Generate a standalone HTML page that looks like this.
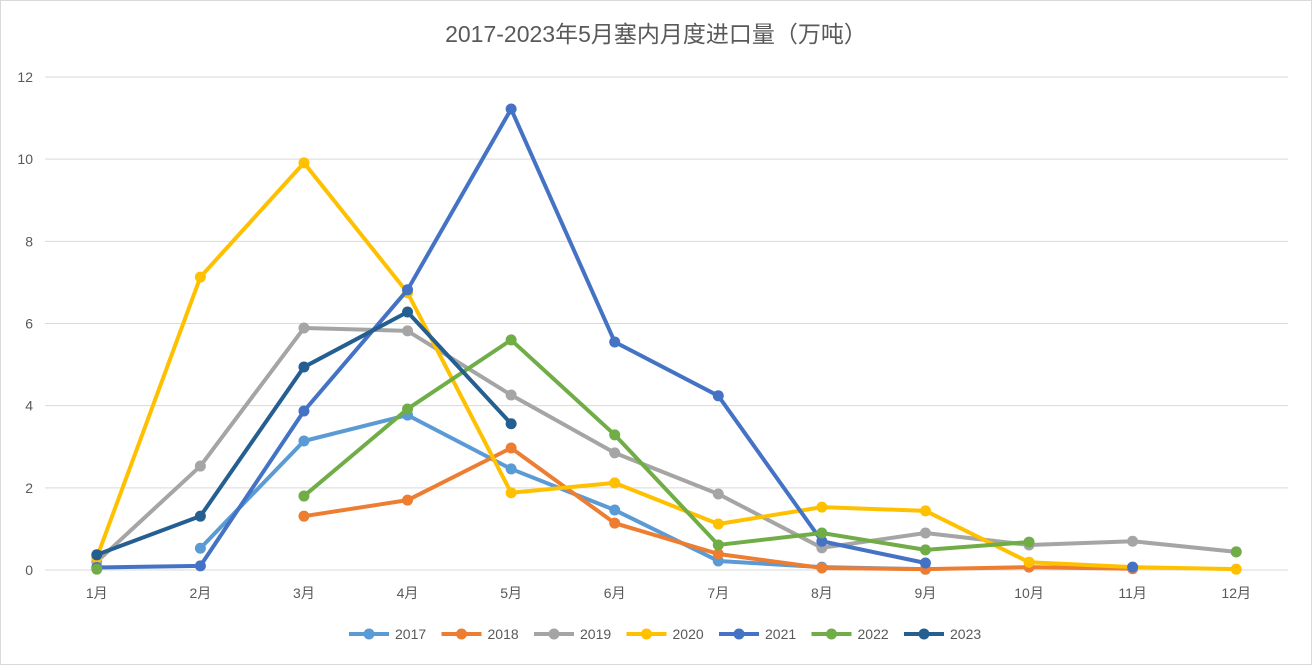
<!DOCTYPE html>
<html><head><meta charset="utf-8"><style>
body{margin:0;background:#fff;}
svg{display:block;font-family:"Liberation Sans","Noto Sans CJK SC",sans-serif;}
</style></head><body>
<svg id="chart" width="1312" height="665">
<rect x="0.5" y="0.5" width="1311" height="664" fill="#fff" stroke="#d9d9d9"/>
<text x="656" y="42" text-anchor="middle" font-size="23" fill="#595959">2017-2023年5月塞内月度进口量（万吨）</text>
<g id="grid"></g><g id="series"></g><g id="legend"></g>
</svg>
<script>
const categories=["1月","2月","3月","4月","5月","6月","7月","8月","9月","10月","11月","12月"];
const yTicks=[0,2,4,6,8,10,12];
const years=["2017","2018","2019","2020","2021","2022","2023"];
const colors=["#5b9bd5","#ed7d31","#a5a5a5","#ffc000","#4472c4","#70ad47","#255e91"];
const s2017=[null,0.53,3.14,3.77,2.46,1.46,0.22,0.07,0.02,null,null,null];
const s2018=[null,null,1.31,1.70,2.97,1.14,0.39,0.05,0.02,0.07,0.03,null];
const s2019=[0.2,2.53,5.89,5.82,4.26,2.85,1.85,0.54,0.9,0.61,0.7,0.44];
const s2020=[0.3,7.13,9.91,6.75,1.88,2.12,1.12,1.53,1.44,0.19,0.07,0.02];
const s2021=[0.06,0.1,3.87,6.82,11.22,5.55,4.24,0.7,0.17,null,0.07,null];
const s2022=[0.02,null,1.8,3.92,5.6,3.29,0.61,0.9,0.49,0.68,null,0.44];
const s2023=[0.37,1.31,4.94,6.28,3.56,null,null,null,null,null,null,null];
const seriesData=[s2017,s2018,s2019,s2020,s2021,s2022,s2023];
const NS="http://www.w3.org/2000/svg";
const plotLeft=45,plotRight=1288,plotTop=77,plotBottom=570,yMax=12;
const bw=(plotRight-plotLeft)/categories.length;
const xS=i=>plotLeft+bw*(i+0.5);
const yS=v=>plotBottom-(v/yMax)*(plotBottom-plotTop);
function mk(t,a,p){const e=document.createElementNS(NS,t);for(const k in a)e.setAttribute(k,a[k]);p.appendChild(e);return e;}
const grid=document.getElementById('grid');
yTicks.forEach(t=>{
 const l=mk('line',{x1:plotLeft,x2:plotRight,y1:yS(t),y2:yS(t),stroke:'#d9d9d9','stroke-width':1},grid);
 
 
 const tx=mk('text',{x:33,y:yS(t)+5,'text-anchor':'end','font-size':14,fill:'#595959'},grid);
 tx.textContent=t;
 
 
});
categories.forEach((c,i)=>{
 const tx=mk('text',{x:xS(i),y:598,'text-anchor':'middle','font-size':14,fill:'#595959'},grid);
 tx.textContent=c;
 
 
});
const sg=document.getElementById('series');
seriesData.forEach((d,si)=>{
 const g=mk('g',{},sg);
 
 
 let path='',pen=false;
 d.forEach((v,i)=>{if(v==null){pen=false;return;}path+=(pen?'L':'M')+xS(i)+' '+yS(v)+' ';pen=true;});
 const p=mk('path',{d:path,fill:'none',stroke:colors[si],'stroke-width':4,'stroke-linejoin':'round','stroke-linecap':'round'},g);
 
 
 d.forEach((v,i)=>{if(v==null)return;
  const c=mk('circle',{cx:xS(i),cy:yS(v),r:5.5,fill:colors[si]},g);
  
  
 });
});
const lg=document.getElementById('legend');
const lx0=349,step=92.5;
years.forEach((y,i)=>{
 const g=mk('g',{},lg);
 
 
 const x=lx0+i*step;
 mk('line',{x1:x,x2:x+40,y1:634,y2:634,stroke:colors[i],'stroke-width':4},g);
 mk('circle',{cx:x+20,cy:634,r:5.5,fill:colors[i]},g);
 const t=mk('text',{x:x+46,y:639,'font-size':14,fill:'#595959'},g);
 t.textContent=y;
});
</script>
</body></html>
